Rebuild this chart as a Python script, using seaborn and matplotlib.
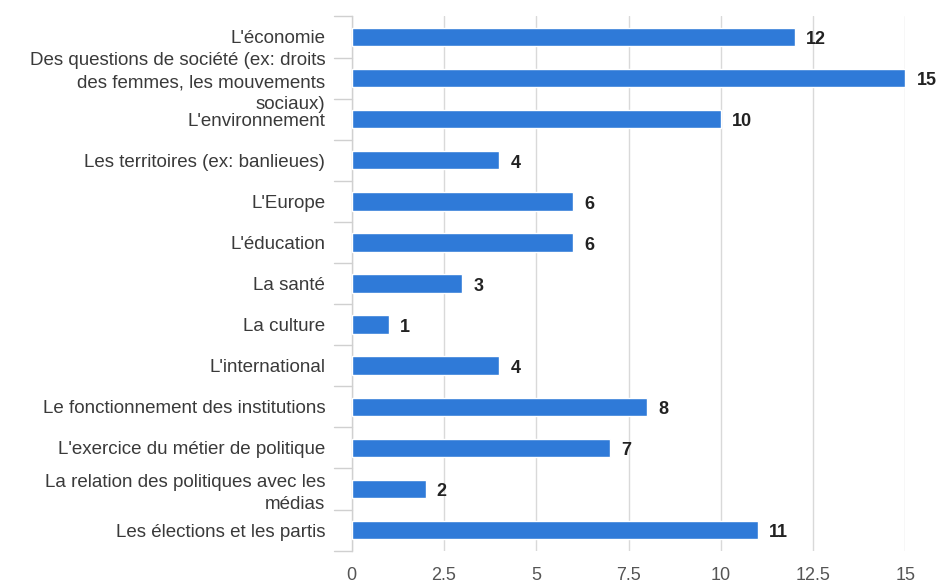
import matplotlib
matplotlib.use("Agg")
import matplotlib.pyplot as plt
import seaborn as sns
import pandas as pd

categories = [
    "L'économie",
    "Des questions de société (ex: droits\ndes femmes, les mouvements\nsociaux)",
    "L'environnement",
    "Les territoires (ex: banlieues)",
    "L'Europe",
    "L'éducation",
    "La santé",
    "La culture",
    "L'international",
    "Le fonctionnement des institutions",
    "L'exercice du métier de politique",
    "La relation des politiques avec les\nmédias",
    "Les élections et les partis",
]
values = [12, 15, 10, 4, 6, 6, 3, 1, 4, 8, 7, 2, 11]
x_ticks = [0, 2.5, 5, 7.5, 10, 12.5, 15]
x_tick_labels = ["0", "2.5", "5", "7.5", "10", "12.5", "15"]

df = pd.DataFrame({"theme": categories, "count": values})

sns.set_theme(style="white")
plt.rcParams["font.family"] = ["Liberation Sans", "DejaVu Sans"]

fig = plt.figure(figsize=(9.48, 5.87), dpi=100)
ax = fig.add_axes([0.371, 0.062, 0.584, 0.91])

sns.barplot(data=df, y="theme", x="count", orient="h", color="#2f7ad8",
            width=0.45, saturation=1, ax=ax, zorder=3)

ax.set_xlim(0, 15)
ax.set_ylim(len(categories) - 0.5, -0.5)
ax.set_xticks(x_ticks)
ax.set_xticklabels(x_tick_labels, fontsize=13, color="#555555")
ax.grid(axis="x", color="#d9d9d9", linewidth=1, zorder=0)
ax.set_xlabel("")
ax.set_ylabel("")

for s in ["top", "right", "bottom"]:
    ax.spines[s].set_visible(False)
ax.spines["left"].set_color("#d0d0d0")
ax.spines["left"].set_linewidth(1)

# category labels right-aligned at each bar
ax.set_yticks(range(len(categories)))
ax.set_yticklabels(categories, fontsize=13.5, color="#3a3a3a", linespacing=1.4)
ax.tick_params(axis="y", length=0, pad=19)
ax.tick_params(axis="x", length=0, pad=12)

# short grey marks at category boundaries
for b in [i + 0.5 for i in range(-1, len(categories))]:
    ax.plot([-0.032, 0], [b, b], transform=ax.get_yaxis_transform(),
            color="#d0d0d0", linewidth=1, clip_on=False)

for i, v in enumerate(values):
    ax.annotate(str(v), xy=(v, i), xytext=(8, -2), textcoords="offset points",
                va="center", ha="left", fontsize=13, fontweight="bold",
                color="#222222")

fig.savefig("out.png", dpi=100)
